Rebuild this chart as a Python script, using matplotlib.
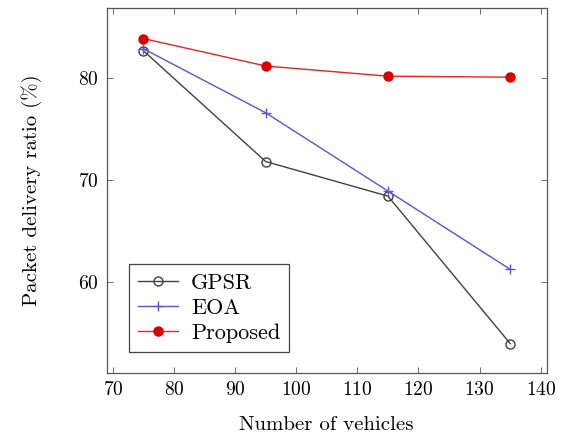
import matplotlib
matplotlib.use("Agg")
import matplotlib.pyplot as plt

plt.rcParams['font.family'] = 'serif'
plt.rcParams['font.serif'] = ['cmr10', 'DejaVu Serif']
plt.rcParams['mathtext.fontset'] = 'cm'
plt.rcParams['axes.formatter.use_mathtext'] = True

# data
vehicles = [75, 95, 115, 135]
gpsr = [82.7, 71.8, 68.4, 53.9]
eoa = [82.9, 76.6, 68.9, 61.2]
proposed = [83.9, 81.2, 80.2, 80.1]

fig = plt.figure(figsize=(5.62, 4.36), dpi=100)
ax = fig.add_axes([0.19, 0.1445, 0.783, 0.837])

ax.plot(vehicles, gpsr, color='#404040', lw=1.0, marker='o', ms=6.5,
        mfc='none', mec='#404040', mew=1.0, label='GPSR')
ax.plot(vehicles, eoa, color='#5555dd', lw=1.0, marker='+', ms=6.5,
        mew=1.0, label='EOA')
ax.plot(vehicles, proposed, color='#ee2020', lw=1.0, marker='o', ms=6.5,
        mfc='#dd0000', mec='#dd0000', label='Proposed')

ax.set_xlim(69, 141)
ax.set_ylim(51.0, 86.9)
ax.set_xticks([70, 80, 90, 100, 110, 120, 130, 140])
ax.set_yticks([60, 70, 80])
ax.tick_params(direction='in', top=True, right=True, length=4,
               width=0.6, color='#555555', labelsize=14, pad=6)
for s in ax.spines.values():
    s.set_color('#555555')
    s.set_linewidth(0.9)

ax.set_xlabel('Number of vehicles', fontsize=15, labelpad=12)
ax.set_ylabel('Packet delivery ratio (%)', fontsize=15, labelpad=26)

leg = ax.legend(loc='lower left', bbox_to_anchor=(0.035, 0.04), fontsize=16,
                fancybox=False, framealpha=1, edgecolor='#444444',
                handlelength=1.8, handletextpad=0.6, borderpad=0.4,
                labelspacing=0.25, borderaxespad=0.3)
leg.get_frame().set_linewidth(0.9)

fig.savefig('out.png', dpi=100)
